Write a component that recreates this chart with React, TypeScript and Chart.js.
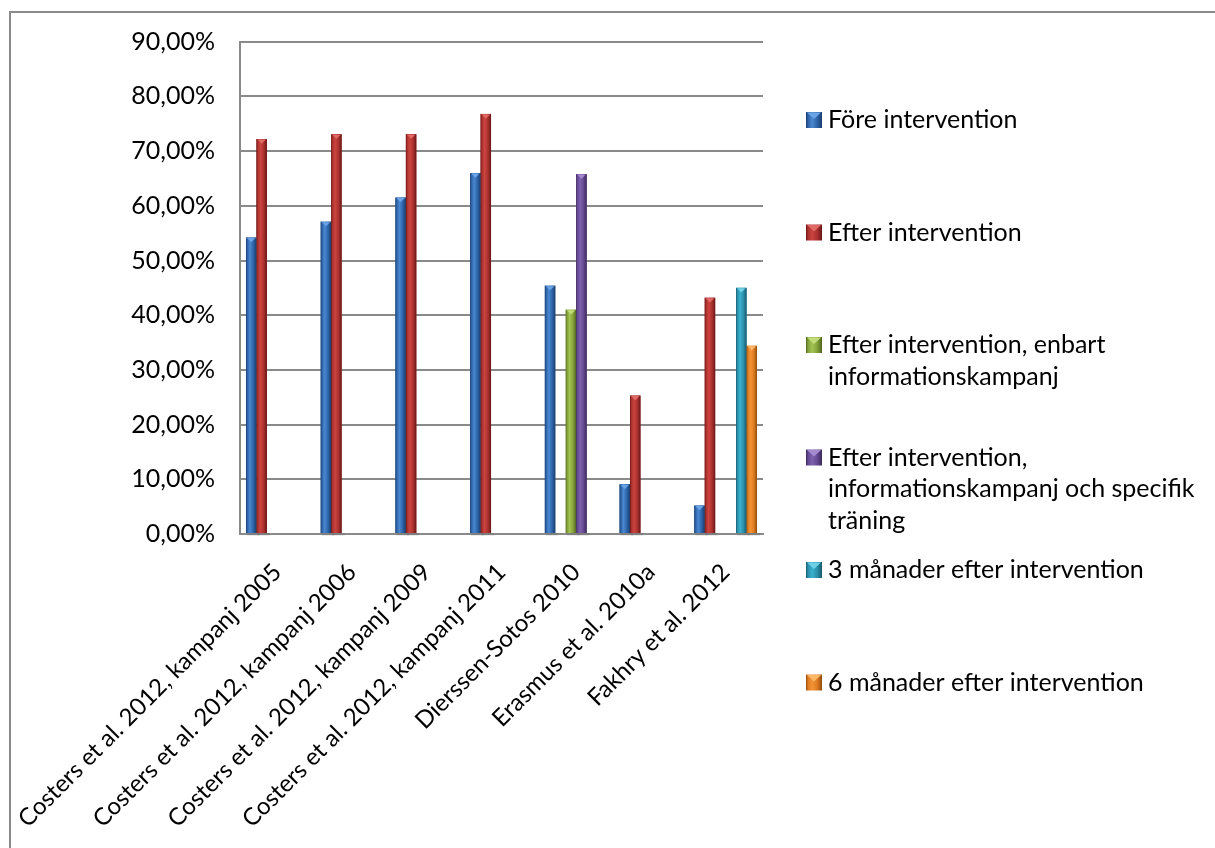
import React, { useEffect, useRef } from "react";
import { Chart, registerables } from "chart.js";

Chart.register(...registerables);

// ---------- data ----------
const categories = [
  "Costers et al. 2012, kampanj 2005",
  "Costers et al. 2012, kampanj 2006",
  "Costers et al. 2012, kampanj 2009",
  "Costers et al. 2012, kampanj 2011",
  "Dierssen-Sotos 2010",
  "Erasmus et al. 2010a",
  "Fakhry et al. 2012",
];

const seriesNames = [
  "Före intervention",
  "Efter intervention",
  "Efter intervention, enbart informationskampanj",
  "Efter intervention, informationskampanj och specifik träning",
  "3 månader efter intervention",
  "6 månader efter intervention",
];

const foreIntervention = [54.2, 57.1, 61.5, 66.0, 45.4, 9.1, 5.2];
const efterIntervention = [72.2, 73.1, 73.1, 76.8, null, 25.3, 43.2];
const efterEnbartInfo = [null, null, null, null, 41.0, null, null];
const efterInfoOchTraning = [null, null, null, null, 65.8, null, null];
const treManaderEfter = [null, null, null, null, null, null, 45.0];
const sexManaderEfter = [null, null, null, null, null, null, 34.4];

const yMin = 0;
const yMax = 90;
const yStep = 10;

// ---------- styles ----------
const FONT = "Lato, 'Open Sans', sans-serif";
const GRID = "#8a8a8a";

const palettes = [
  { light: "#4a88d0", base: "#2c62a6", dark: "#1a3d6b", top: "#6aa3e6" },
  { light: "#cc4440", base: "#a8302d", dark: "#661616", top: "#e06a66" },
  { light: "#a4c452", base: "#819f38", dark: "#4f6420", top: "#c2dd7a" },
  { light: "#7f62ad", base: "#634790", dark: "#3a2958", top: "#a58ad0" },
  { light: "#3cb2cf", base: "#2a8ea9", dark: "#17576a", top: "#6fd0e6" },
  { light: "#f39436", base: "#dc7a20", dark: "#8f4a0c", top: "#ffb868" },
];

const seriesData = [
  foreIntervention,
  efterIntervention,
  efterEnbartInfo,
  efterInfoOchTraning,
  treManaderEfter,
  sexManaderEfter,
];

function fmtPct(v: number) {
  return v.toFixed(2).replace(".", ",") + "%";
}

function barGradient(ctx: CanvasRenderingContext2D, left: number, width: number, p: any) {
  const g = ctx.createLinearGradient(left, 0, left + width, 0);
  g.addColorStop(0, p.dark);
  g.addColorStop(0.12, p.base);
  g.addColorStop(0.38, p.light);
  g.addColorStop(0.72, p.base);
  g.addColorStop(1, p.dark);
  return g;
}

const bevelPlugin = {
  id: "bevelBars",
  afterDatasetsDraw(chart: any) {
    const ctx: CanvasRenderingContext2D = chart.ctx;
    ctx.save();
    chart.data.datasets.forEach((ds: any, di: number) => {
      const meta = chart.getDatasetMeta(di);
      const p = palettes[di];
      meta.data.forEach((el: any, i: number) => {
        const v = ds.data[i];
        if (v == null) return;
        const { x, y, base, width } = el.getProps(["x", "y", "base", "width"], true);
        const left = x - width / 2;
        ctx.fillStyle = "rgba(0,0,0,0.08)";
        ctx.fillRect(left + 1, base, width + 2, 3);
        ctx.fillStyle = barGradient(ctx, left, width, p);
        ctx.fillRect(left, y, width, base - y);
        ctx.beginPath();
        ctx.moveTo(left + 1, y + 0.5);
        ctx.lineTo(left + width - 1, y + 0.5);
        ctx.lineTo(x, y + width * 0.45);
        ctx.closePath();
        ctx.fillStyle = p.top;
        ctx.fill();
      });
    });
    ctx.restore();
  },
};

function wrapText(ctx: CanvasRenderingContext2D, text: string, maxWidth: number) {
  const words = text.split(" ");
  const lines: string[] = [];
  let cur = "";
  for (const w of words) {
    const t = cur ? cur + " " + w : w;
    if (ctx.measureText(t).width > maxWidth && cur) {
      lines.push(cur);
      cur = w;
    } else cur = t;
  }
  if (cur) lines.push(cur);
  return lines;
}

const legendPlugin = {
  id: "sideLegend",
  afterDraw(chart: any) {
    const ctx: CanvasRenderingContext2D = chart.ctx;
    ctx.save();
    ctx.font = `25px ${FONT}`;
    ctx.textBaseline = "middle";
    ctx.textAlign = "left";
    const markerX = 806;
    const textX = 828;
    const top = 120;
    const step = 112.5;
    const lineH = 31.7;
    chart.data.datasets.forEach((ds: any, i: number) => {
      const p = palettes[i];
      const y0 = top + i * step;
      ctx.fillStyle = barGradient(ctx, markerX, 16, p);
      ctx.fillRect(markerX, y0 - 8, 16, 16);
      ctx.beginPath();
      ctx.moveTo(markerX + 1, y0 - 7.5);
      ctx.lineTo(markerX + 15, y0 - 7.5);
      ctx.lineTo(markerX + 8, y0 - 1);
      ctx.closePath();
      ctx.fillStyle = p.top;
      ctx.fill();
      ctx.fillStyle = "#000";
      const lines = wrapText(ctx, ds.label, 384);
      lines.forEach((ln, k) => ctx.fillText(ln, textX, y0 + k * lineH));
    });
    ctx.restore();
  },
};

export default function App() {
  const ref = useRef<HTMLCanvasElement | null>(null);

  useEffect(() => {
    if (!ref.current) return;
    const chart = new Chart(ref.current, {
      type: "bar",
      data: {
        labels: categories,
        datasets: seriesNames.map((name, i) => ({
          label: name,
          data: seriesData[i] as any,
          backgroundColor: palettes[i].base,
          borderWidth: 0,
          categoryPercentage: 0.84,
          barPercentage: 1.0,
        })),
      },
      options: {
        responsive: false,
        animation: false,
        devicePixelRatio: 1,
        layout: { padding: { top: 41.7, right: 452, left: 0, bottom: 0 } },
        plugins: {
          legend: { display: false },
          tooltip: { enabled: false },
          title: { display: false },
        },
        scales: {
          x: {
            grid: { display: false, drawTicks: false },
            border: { display: true, color: GRID, width: 2 },
            ticks: {
              autoSkip: false,
              minRotation: 45,
              maxRotation: 45,
              color: "#000",
              padding: 24,
              font: { family: FONT, size: 24 },
            },
            afterFit(scale: any) {
              scale.height = 848 - 534;
              scale.paddingLeft = 0;
              scale.paddingRight = 0;
            },
          },
          y: {
            min: yMin,
            max: yMax,
            grid: { color: GRID, lineWidth: 2, drawTicks: false },
            border: { display: true, color: GRID, width: 2 },
            ticks: {
              stepSize: yStep,
              color: "#000",
              padding: 25,
              font: { family: FONT, size: 25 },
              callback: (v: any) => fmtPct(Number(v)),
            },
            afterFit(scale: any) {
              scale.width = 240;
            },
          },
        },
      },
      plugins: [bevelPlugin, legendPlugin],
    });
    return () => chart.destroy();
  }, []);

  return (
    <div
      style={{
        position: "absolute",
        left: 0,
        top: 0,
        width: 1215,
        height: 848,
        overflow: "hidden",
        background: "#fff",
      }}
    >
      <div
        style={{
          position: "absolute",
          left: 9,
          top: 11,
          width: 1230,
          height: 860,
          borderLeft: "2px solid #8a8a8a",
          borderTop: "2px solid #8a8a8a",
        }}
      />
      <canvas
        ref={ref}
        width={1215}
        height={848}
        style={{ position: "absolute", left: 0, top: 0, width: 1215, height: 848 }}
      />
    </div>
  );
}
